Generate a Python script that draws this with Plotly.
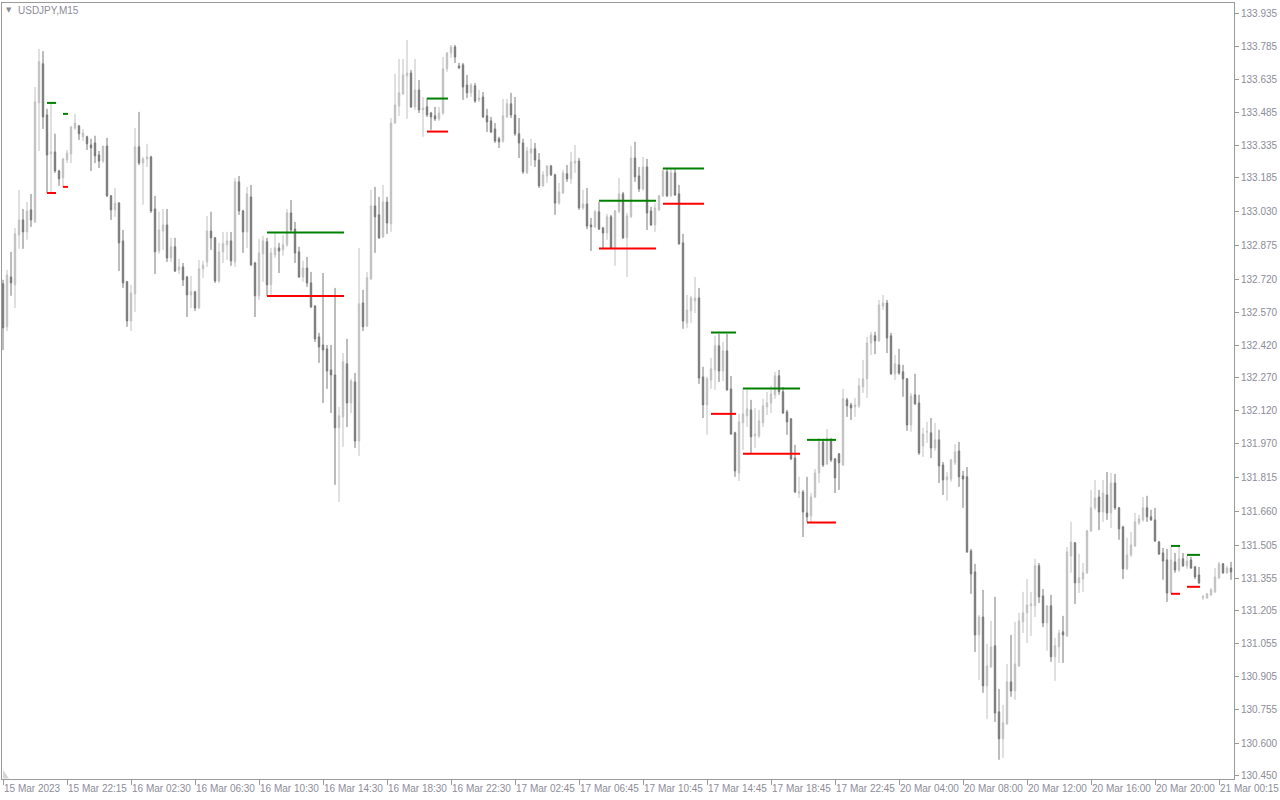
import plotly.graph_objects as go

# ---------------- data (USDJPY, M15) ----------------
opens = [
132.701,132.504,132.732,132.696,132.924,132.993,132.938,133.039,132.984,133.528,
133.707,133.473,133.295,133.304,133.217,133.185,133.267,133.295,133.413,133.423,
133.373,133.373,133.336,133.345,133.290,133.262,133.331,133.103,133.039,133.070,
132.897,132.710,132.531,132.655,133.327,133.253,133.272,133.281,133.043,132.851,
132.942,132.970,132.819,132.870,132.764,132.778,132.732,132.650,132.664,132.590,
132.769,132.801,132.942,132.911,132.714,132.847,132.879,132.897,132.801,133.167,
133.034,132.938,133.098,132.796,132.646,132.838,132.893,132.696,132.833,132.865,
132.856,132.879,133.025,132.951,132.847,132.732,132.773,132.705,132.599,132.458,
132.421,132.403,132.307,132.284,132.042,132.092,132.335,132.156,132.252,131.982,
132.613,132.508,132.723,133.057,133.016,132.915,133.075,132.975,133.436,133.514,
133.569,133.652,133.665,133.510,133.587,133.496,133.510,133.482,133.469,133.455,
133.482,133.684,133.756,133.784,133.697,133.702,133.610,133.574,133.606,133.542,
133.555,133.469,133.446,133.409,133.364,133.354,133.464,133.524,133.473,133.387,
133.345,133.208,133.299,133.318,133.267,133.149,133.194,133.240,133.199,133.070,
133.116,133.204,133.181,133.253,133.262,133.048,133.066,132.970,132.961,133.030,
132.956,132.933,133.007,132.865,133.030,133.112,132.911,133.007,133.276,133.194,
133.135,133.235,133.034,132.970,133.039,133.103,133.213,133.103,133.208,133.112,
132.888,132.522,132.577,132.622,132.636,132.275,132.147,132.261,132.307,132.417,
132.302,132.394,132.220,132.019,131.836,132.065,132.097,132.124,132.005,132.005,
132.065,132.138,132.156,132.193,132.280,132.207,132.115,132.083,131.904,131.744,
131.749,131.653,131.639,131.726,131.836,131.978,131.877,131.982,131.900,131.923,
131.872,132.170,132.147,132.138,132.143,132.229,132.266,132.430,132.463,132.440,
132.599,132.613,132.463,132.289,132.330,132.298,132.266,132.055,132.193,132.156,
131.959,132.024,132.019,131.950,131.987,131.872,131.804,131.808,131.882,131.936,
131.822,131.818,131.479,131.383,131.095,131.177,130.862,130.949,131.045,130.743,
130.620,130.688,130.880,130.839,130.953,131.155,131.196,131.228,131.228,131.411,
131.273,131.150,131.228,130.995,131.040,131.109,131.090,131.456,131.516,131.333,
131.351,131.379,131.571,131.676,131.726,131.657,131.735,131.653,131.790,131.676,
131.589,131.397,131.461,131.502,131.607,131.621,131.676,131.635,131.621,131.520,
131.470,131.438,131.287,131.429,131.392,131.443,131.411,131.438,131.406,131.369,
131.264,131.264,131.278,131.292,131.356,131.420,131.379,131.401]

highs = [
132.719,132.764,132.847,132.956,133.130,133.043,133.075,133.112,133.601,133.775,
133.765,133.501,133.528,133.387,133.222,133.276,133.313,133.423,133.478,133.427,
133.409,133.378,133.364,133.378,133.308,133.331,133.368,133.107,133.139,133.075,
132.947,132.714,132.696,133.413,133.487,133.281,133.341,133.286,133.103,133.030,
133.043,133.043,132.911,132.911,132.815,132.796,132.737,132.737,132.668,132.810,
132.806,133.011,133.030,132.915,132.888,132.938,132.938,132.938,133.185,133.194,
133.039,133.144,133.153,132.801,132.906,132.920,132.911,132.865,132.933,132.888,
132.924,133.043,133.084,132.984,132.870,132.806,132.824,132.755,132.604,132.476,
132.750,132.421,132.421,132.682,132.138,132.384,132.449,132.266,132.293,132.865,
132.673,132.755,133.130,133.144,133.098,133.153,133.098,133.459,133.661,133.729,
133.729,133.816,133.679,133.729,133.633,133.555,133.551,133.487,133.510,133.510,
133.738,133.761,133.793,133.793,133.711,133.711,133.656,133.619,133.619,133.587,
133.578,133.501,133.464,133.436,133.373,133.546,133.546,133.574,133.555,133.459,
133.364,133.327,133.364,133.345,133.299,133.217,133.244,133.244,133.204,133.162,
133.222,133.244,133.304,133.336,133.276,133.130,133.139,133.002,133.039,133.075,
132.961,133.021,133.016,133.039,133.185,133.121,133.025,133.331,133.350,133.235,
133.281,133.272,133.052,133.070,133.107,133.231,133.226,133.226,133.226,133.153,
132.929,132.650,132.646,132.732,132.682,132.321,132.275,132.362,132.463,132.472,
132.435,132.472,132.279,132.024,132.106,132.225,132.216,132.170,132.133,132.124,
132.175,132.207,132.234,132.298,132.307,132.229,132.124,132.087,131.964,131.818,
131.758,131.818,131.744,131.854,131.996,131.992,132.037,131.996,131.904,131.927,
132.220,132.179,132.156,132.179,132.270,132.353,132.458,132.481,132.481,132.627,
132.650,132.627,132.476,132.375,132.403,132.330,132.270,132.202,132.289,132.193,
132.042,132.069,132.087,132.065,132.033,131.886,131.840,131.900,131.968,131.978,
131.845,131.863,131.488,131.420,131.186,131.301,131.054,131.159,131.269,130.848,
130.775,130.962,131.095,131.155,131.196,131.292,131.351,131.292,131.443,131.424,
131.305,131.228,131.278,131.081,131.118,131.182,131.497,131.612,131.520,131.466,
131.424,131.575,131.758,131.804,131.758,131.804,131.840,131.836,131.831,131.680,
131.594,131.539,131.566,131.653,131.644,131.726,131.731,131.667,131.676,131.525,
131.493,131.488,131.497,131.470,131.502,131.470,131.456,131.452,131.411,131.406,
131.278,131.287,131.310,131.401,131.429,131.424,131.411,131.429]

lows = [
132.398,132.485,132.646,132.590,132.861,132.861,132.902,132.961,132.979,133.308,
133.409,133.116,133.116,133.208,133.149,133.144,133.253,133.253,133.405,133.359,
133.354,133.313,133.217,133.253,133.230,133.253,133.098,132.993,133.007,132.759,
132.682,132.504,132.485,132.572,133.244,133.062,133.235,133.025,132.746,132.838,
132.856,132.801,132.801,132.755,132.746,132.691,132.549,132.590,132.577,132.586,
132.728,132.778,132.856,132.705,132.705,132.796,132.810,132.783,132.778,133.016,
132.842,132.865,132.783,132.549,132.627,132.710,132.646,132.650,132.819,132.750,
132.829,132.870,132.938,132.796,132.728,132.710,132.687,132.590,132.435,132.339,
132.156,132.220,132.110,131.781,131.703,131.955,132.046,132.110,131.950,131.914,
132.485,132.504,132.719,132.842,132.906,132.911,132.929,132.938,133.432,133.469,
133.565,133.455,133.505,133.496,133.482,133.373,133.464,133.405,133.446,133.446,
133.473,133.670,133.734,133.711,133.684,133.542,133.551,133.555,133.528,133.533,
133.459,133.395,133.391,133.345,133.322,133.345,133.459,133.459,133.378,133.276,
133.204,133.204,133.240,133.235,133.139,133.144,133.162,133.194,133.016,133.062,
133.112,133.167,133.158,133.208,133.039,133.039,132.951,132.851,132.956,132.947,
132.865,132.902,132.861,132.783,133.025,132.906,132.732,133.002,133.167,133.121,
133.126,132.947,132.965,132.938,133.034,133.098,133.098,133.098,133.103,132.879,
132.495,132.499,132.522,132.567,132.243,132.087,132.010,132.220,132.216,132.252,
132.256,132.211,132.010,131.818,131.799,131.941,132.046,131.927,131.950,131.996,
132.046,132.101,132.110,132.175,132.193,132.106,132.010,131.895,131.744,131.721,
131.543,131.612,131.607,131.721,131.790,131.863,131.872,131.886,131.744,131.758,
131.868,132.092,132.078,132.092,132.133,132.202,132.179,132.375,132.380,132.435,
132.581,132.384,132.284,132.261,132.284,132.184,132.028,132.024,132.147,131.918,
131.909,131.973,131.904,131.937,131.790,131.735,131.708,131.795,131.872,131.772,
131.676,131.470,131.283,131.017,130.889,130.830,130.711,130.944,130.697,130.524,
130.533,130.684,130.812,130.798,130.949,131.104,131.058,131.090,131.177,131.241,
131.131,131.022,130.972,130.885,130.967,130.967,131.086,131.379,131.237,131.287,
131.292,131.374,131.566,131.667,131.575,131.612,131.621,131.584,131.667,131.530,
131.351,131.392,131.452,131.497,131.598,131.612,131.612,131.617,131.520,131.461,
131.347,131.246,131.283,131.379,131.383,131.406,131.397,131.397,131.351,131.328,
131.255,131.260,131.273,131.287,131.351,131.374,131.374,131.347]

closes = [
132.499,132.741,132.705,132.929,132.993,132.938,133.034,132.993,133.533,133.716,
133.464,133.290,133.304,133.217,133.181,133.272,133.299,133.418,133.436,133.387,
133.391,133.341,133.322,133.286,133.262,133.331,133.103,133.039,133.070,132.888,
132.705,132.531,132.659,133.327,133.253,133.272,133.281,133.034,132.847,132.947,
132.970,132.819,132.870,132.759,132.778,132.719,132.650,132.664,132.590,132.769,
132.787,132.942,132.911,132.714,132.847,132.884,132.897,132.806,133.167,133.034,
132.938,133.112,132.787,132.646,132.842,132.897,132.696,132.842,132.865,132.851,
132.879,133.025,132.947,132.842,132.732,132.773,132.705,132.595,132.449,132.412,
132.398,132.302,132.284,132.042,132.097,132.344,132.156,132.257,131.982,132.609,
132.504,132.728,133.057,133.007,132.911,133.075,132.979,133.436,133.519,133.574,
133.656,133.665,133.510,133.587,133.496,133.505,133.473,133.464,133.455,133.482,
133.684,133.756,133.784,133.738,133.688,133.601,133.574,133.610,133.537,133.551,
133.464,133.441,133.395,133.354,133.350,133.469,133.524,133.473,133.387,133.345,
133.213,133.308,133.318,133.267,133.149,133.199,133.240,133.199,133.070,133.121,
133.208,133.181,133.258,133.262,133.048,133.066,132.965,132.961,133.030,132.951,
132.933,133.007,132.865,133.034,133.112,132.911,133.011,133.276,133.190,133.135,
133.235,133.025,132.970,133.048,133.103,133.217,133.103,133.208,133.107,132.884,
132.531,132.581,132.636,132.636,132.270,132.147,132.266,132.312,132.417,132.302,
132.394,132.216,132.014,131.845,132.069,132.106,132.129,132.001,132.014,132.074,
132.143,132.156,132.197,132.280,132.207,132.110,132.069,131.900,131.749,131.749,
131.657,131.635,131.726,131.836,131.978,131.872,131.996,131.895,131.813,131.882,
132.175,132.143,132.133,132.147,132.234,132.266,132.430,132.467,132.440,132.604,
132.613,132.453,132.289,132.335,132.293,132.266,132.055,132.188,132.152,131.927,
132.014,132.024,131.950,131.987,131.868,131.804,131.818,131.895,131.932,131.818,
131.808,131.475,131.374,131.095,131.177,130.862,130.953,131.040,130.738,130.620,
130.693,130.880,130.839,130.962,131.159,131.196,131.232,131.237,131.411,131.269,
131.150,131.228,130.995,131.045,131.104,131.095,131.475,131.520,131.333,131.356,
131.379,131.571,131.676,131.721,131.657,131.744,131.653,131.790,131.676,131.580,
131.397,131.461,131.507,131.612,131.626,131.676,131.635,131.621,131.525,131.465,
131.433,131.287,131.438,131.392,131.443,131.411,131.433,131.401,131.360,131.333,
131.269,131.283,131.301,131.360,131.420,131.379,131.401,131.383]

# bar-index positions of the time labels and their text
time_tick_bars = [0, 16, 32, 48, 64, 80, 96, 112, 128, 144, 160, 176, 192, 208, 224, 240, 256, 272, 288, 304]
time_tick_labels = ["15 Mar 2023", "15 Mar 22:15", "16 Mar 02:30", "16 Mar 06:30", "16 Mar 10:30",
                    "16 Mar 14:30", "16 Mar 18:30", "16 Mar 22:30", "17 Mar 02:45", "17 Mar 06:45",
                    "17 Mar 10:45", "17 Mar 14:45", "17 Mar 18:45", "17 Mar 22:45", "20 Mar 04:00",
                    "20 Mar 08:00", "20 Mar 12:00", "20 Mar 16:00", "20 Mar 20:00", "21 Mar 00:15"]

price_ticks = [133.935, 133.785, 133.635, 133.485, 133.335, 133.185, 133.030, 132.875, 132.720,
               132.570, 132.420, 132.270, 132.120, 131.970, 131.815, 131.660, 131.505, 131.355,
               131.205, 131.055, 130.905, 130.755, 130.600, 130.450]

# indicator range levels: start bar, end bar, upper (green), lower (red)
level_start = [11, 15, 66, 106, 149, 165, 177, 185, 201, 292, 296]
level_end   = [13, 16, 85, 111, 163, 175, 183, 199, 208, 294, 299]
level_high  = [133.528, 133.478, 132.935, 133.548, 133.081, 133.228, 132.478, 132.222, 131.987, 131.502, 131.461]
level_low   = [133.116, 133.144, 132.645, 133.397, 132.862, 133.067, 132.106, 131.924, 131.609, 131.283, 131.315]

# ---------------- figure ----------------
LIGHT = "#c0c0c0"
DARK = "#787878"
AXIS = "#9a9a9a"
TXT = "#8c8c98"

bars = list(range(len(opens)))

fig = go.Figure()
fig.add_trace(go.Candlestick(
    x=bars, open=opens, high=highs, low=lows, close=closes,
    increasing=dict(line=dict(color=LIGHT, width=1), fillcolor=LIGHT),
    decreasing=dict(line=dict(color=DARK, width=1), fillcolor=DARK),
    whiskerwidth=0, hoverinfo="skip", showlegend=False,
))

for s, e, hi, lo in zip(level_start, level_end, level_high, level_low):
    fig.add_shape(type="line", xref="x", yref="y", x0=s, x1=e + 0.25, y0=hi, y1=hi,
                  line=dict(color="#008000", width=2))
    fig.add_shape(type="line", xref="x", yref="y", x0=s, x1=e + 0.25, y0=lo, y1=lo,
                  line=dict(color="#ff0000", width=2))

# small chart-shift marker in the lower-left corner
fig.add_shape(type="path", xref="paper", yref="paper",
              path="M 0.0008,0.0116 L 0.0008,0.0005 L 0.0057,0.0005 Z",
              fillcolor="#d4d4d4", line=dict(width=0))

fig.add_annotation(xref="paper", yref="paper", x=0.002, y=0.991, xanchor="left", yanchor="middle",
                   text="▼", showarrow=False, font=dict(size=7, color=TXT, family="DejaVu Sans"))
fig.add_annotation(xref="paper", yref="paper", x=0.011, y=0.990, xanchor="left", yanchor="middle",
                   text="USDJPY,M15", showarrow=False, font=dict(size=10, color=TXT, family="Liberation Sans"))

fig.update_layout(
    width=1280, height=800,
    margin=dict(l=2, r=46, t=3, b=21, autoexpand=False),
    paper_bgcolor="white", plot_bgcolor="white",
    boxgap=0.5,
    showlegend=False,
    font=dict(family="Liberation Sans", size=10, color=TXT),
    xaxis=dict(
        range=[-0.25, 307.75], rangeslider=dict(visible=False),
        tickmode="array", tickvals=time_tick_bars, ticktext=time_tick_labels,
        ticks="outside", ticklen=5, tickcolor=AXIS, tickwidth=1,
        ticklabelposition="outside right", tickangle=0, automargin=False,
        showline=True, mirror=True, linecolor=AXIS, linewidth=1,
        showgrid=False, zeroline=False,
        tickfont=dict(size=10, color=TXT, family="Liberation Sans"),
    ),
    yaxis=dict(
        side="right", range=[130.436, 133.985], automargin=False,
        tickmode="array", tickvals=price_ticks, ticktext=[f"{v:.3f}" for v in price_ticks],
        ticks="outside", ticklen=4, tickcolor=AXIS, tickwidth=1,
        showline=True, mirror=True, linecolor=AXIS, linewidth=1,
        showgrid=False, zeroline=False,
        tickfont=dict(size=10, color=TXT, family="Liberation Sans"),
    ),
)

fig.write_html(
    "out.html",
    config={"displayModeBar": False},
    post_script="document.body.style.margin='0px'; document.body.style.overflow='hidden';",
)
